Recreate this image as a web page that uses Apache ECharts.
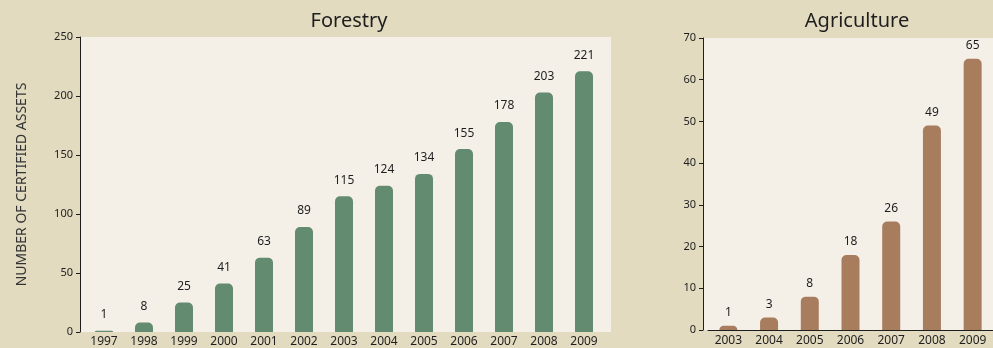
<!DOCTYPE html>
<html>
<head>
<meta charset="utf-8">
<script src="https://cdn.jsdelivr.net/npm/echarts@6/dist/echarts.min.js"></script>
<style>
html,body{margin:0;padding:0;background:#e2dbc0;}
#c{width:993px;height:348px;}
</style>
</head>
<body>
<div id="c"></div>
<script>
const forestryYears = ['1997','1998','1999','2000','2001','2002','2003','2004','2005','2006','2007','2008','2009'];
const forestryValues = [1, 8, 25, 41, 63, 89, 115, 124, 134, 155, 178, 203, 221];
const agriYears = ['2003','2004','2005','2006','2007','2008','2009'];
const agriValues = [1, 3, 8, 18, 26, 49, 65];
const titles = ['Forestry', 'Agriculture'];
const yAxisName = 'NUMBER OF CERTIFIED ASSETS';

const chart = echarts.init(document.getElementById('c'));
const txt = '#1e1e1e';
const font = 'Noto Sans';
chart.setOption({
  backgroundColor: '#e2dbc0',
  animation: false,
  textStyle: {fontFamily: font},
  title: [
    {text: titles[0], left: 344, top: 6, textAlign: 'center', textStyle: {fontSize: 20, fontWeight: 'normal', color: txt, fontFamily: font}},
    {text: titles[1], left: 852, top: 6, textAlign: 'center', textStyle: {fontSize: 20, fontWeight: 'normal', color: txt, fontFamily: font}}
  ],
  graphic: [
    {type: 'rect', z: -10, shape: {x: 80, y: 37, width: 531, height: 295}, style: {fill: '#f4f0e8'}},
    {type: 'rect', z: -10, shape: {x: 703, y: 38, width: 290, height: 292}, style: {fill: '#f4f0e8'}}
  ],
  grid: [
    {left: 84, top: 37, width: 520, height: 295},
    {left: 708, top: 38, width: 285, height: 292}
  ],
  xAxis: [
    {type: 'category', gridIndex: 0, data: forestryYears,
     axisLine: {show: false}, axisTick: {show: false},
     axisLabel: {color: txt, fontSize: 12, margin: 4, interval: 0}},
    {type: 'category', gridIndex: 1, data: agriYears,
     axisLine: {show: true, lineStyle: {color: '#1e1e1e', width: 1}}, axisTick: {show: false},
     axisLabel: {color: txt, fontSize: 12, margin: 5, interval: 0}}
  ],
  yAxis: [
    {type: 'value', gridIndex: 0, min: 0, max: 250, interval: 50, offset: 4,
     name: yAxisName, nameLocation: 'middle', nameGap: 51, nameRotate: 90,
     nameTextStyle: {color: '#333', fontSize: 14},
     axisLine: {show: true, lineStyle: {color: '#1e1e1e'}},
     axisTick: {show: true, length: 4, lineStyle: {color: '#1e1e1e'}},
     splitLine: {show: false},
     axisLabel: {color: txt, fontSize: 11, margin: 7}},
    {type: 'value', gridIndex: 1, min: 0, max: 70, interval: 10, offset: 5,
     axisLine: {show: true, lineStyle: {color: '#1e1e1e'}},
     axisTick: {show: true, length: 4, lineStyle: {color: '#1e1e1e'}},
     splitLine: {show: false},
     axisLabel: {color: txt, fontSize: 11, margin: 7}}
  ],
  series: [
    {type: 'bar', xAxisIndex: 0, yAxisIndex: 0, data: forestryValues, barWidth: 18,
     itemStyle: {color: '#628b6f', borderRadius: [5,5,0,0]},
     label: {show: true, position: 'top', distance: 10, color: txt, fontSize: 12}},
    {type: 'bar', xAxisIndex: 1, yAxisIndex: 1, data: agriValues, barWidth: 18,
     itemStyle: {color: '#a77d5e', borderRadius: [5,5,0,0]},
     label: {show: true, position: 'top', distance: 7, color: txt, fontSize: 12}}
  ]
});
</script>
</body>
</html>
